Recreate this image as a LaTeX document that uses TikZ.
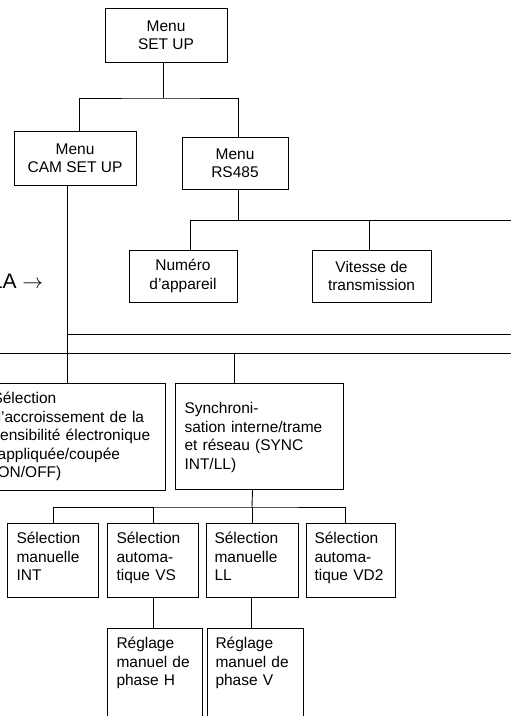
\documentclass[tikz,border=0pt]{standalone}
\usepackage{fontspec}
\setmainfont{Liberation Sans}
\usetikzlibrary{positioning,calc}

\begin{document}
\begin{tikzpicture}[x=1pt,y=-1pt,line width=0.9pt,
  menubox/.style={draw,line width=1pt,inner sep=0pt,align=center,
    font=\fontsize{15.5}{18.5}\selectfont},
  textbox/.style={draw,line width=1pt,anchor=north west,align=left,
    inner xsep=9pt,inner ysep=0pt,text height=20pt,
    font=\fontsize{15.5}{18.5}\selectfont}]
  \useasboundingbox (0,0) rectangle (511,716);
  \clip (0,0) rectangle (511,716);
  \node[menubox,minimum width=122pt,minimum height=54pt] (setup) at (166,35) {Menu\\SET UP};
  \node[menubox,minimum width=122pt,minimum height=54pt] (cam) at (75,158) {Menu\\CAM SET UP};
  \node[menubox,minimum width=106pt,minimum height=52pt] (rs) at (235,163) {Menu\\RS485};
  \node[menubox,minimum width=108pt,minimum height=52pt] (num) at (183,276) {Numéro\\d'appareil};
  \node[menubox,minimum width=119pt,minimum height=52pt] (vit) at (371.5,276) {Vitesse de\\transmission};
  \node[anchor=base east,font=\fontsize{21}{24}\selectfont] (la) at (47,288) {LA $\rightarrow$};
  \node[textbox,text width=164pt,text depth=87pt] (sel) at (-17,383)
    {Sélection\\d'accroissement de la\\sensibilité électronique\\(appliquée/coupée\\(ON/OFF)};
  \node[textbox,text width=150pt,text height=30pt,text depth=76pt] (sync) at (175,383)
    {Synchroni-\\sation interne/trame\\et réseau (SYNC\\INT/LL)};
  \node[textbox,text width=73pt,text depth=54pt] (ba) at (7,523) {Sélection\\manuelle\\INT};
  \node[textbox,text width=73pt,text depth=54pt] (bb) at (107,523) {Sélection\\automa-\\tique VS};
  \node[textbox,inner xsep=8pt,text width=76pt,text depth=54pt] (bc) at (206,523) {Sélection\\manuelle\\LL};
  \node[textbox,inner xsep=8pt,text width=73pt,text depth=54pt] (bd) at (306,523) {Sélection\\automa-\\tique VD2};
  \node[textbox,text width=77pt,text depth=100pt] (rh) at (107,628) {Réglage\\manuel de\\phase H};
  \node[textbox,inner xsep=8pt,text width=80pt,text depth=100pt] (rv) at (207,628) {Réglage\\manuel de\\phase V};
  \coordinate (j1) at (163,98);
  \coordinate (rt1) at (520,220);
  \coordinate (rt2) at (520,334);
  \coordinate (lf3) at (-10,353);
  \coordinate (rt3) at (520,353);
  \coordinate (j4) at (252,507);
  \draw ([xshift=-3pt]setup.south) -- (j1);
  \draw ([xshift=4pt]cam.north) |- (j1) -| ([xshift=3pt]rs.north);
  \draw ([xshift=3pt]rs.south) -- ([xshift=3pt]rs.south |- rt1);
  \draw ([xshift=7pt]num.north) |- (rt1);
  \draw ([xshift=-2.5pt]vit.north) -- ([xshift=-2.5pt]vit.north |- rt1);
  \draw ([xshift=-8pt]cam.south) -- ([xshift=-8pt]cam.south |- sel.north);
  \draw ([xshift=-8pt]cam.south |- rt2) -- (rt2);
  \draw (lf3) -- (rt3);
  \draw ([xshift=-25pt]sync.north) -- ([xshift=-25pt]sync.north |- rt3);
  \draw ([xshift=-7pt]sync.south) -- (j4);
  \draw (ba.north) |- (j4) -| ([xshift=-5.5pt]bd.north);
  \draw (bb.north) -- (bb.north |- j4);
  \draw (bc.north) -- (bc.north |- j4);
  \draw (bb.south) -- (bb.south |- rh.north);
  \draw ([xshift=-1pt]bc.south) -- ([xshift=-1pt]bc.south |- rv.north);
\end{tikzpicture}
\end{document}
